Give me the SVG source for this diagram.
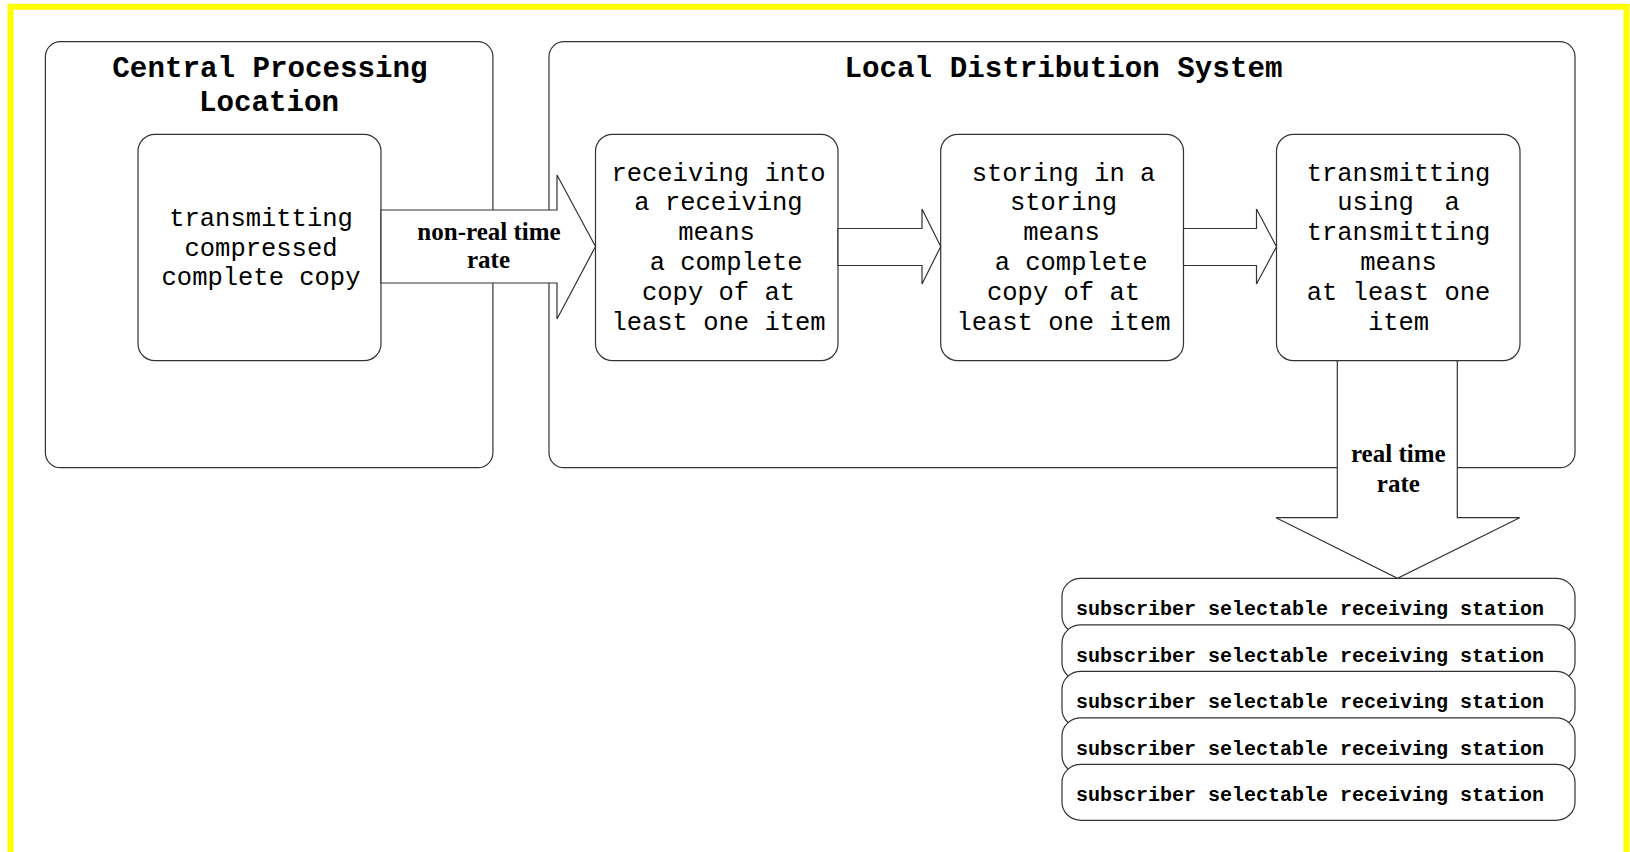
<svg xmlns="http://www.w3.org/2000/svg" width="1630" height="852" viewBox="0 0 1630 852">
<style>
.box{fill:#fff;stroke:#333;stroke-width:1.2}
.arr{fill:#fff;stroke:#333;stroke-width:1.2;stroke-linejoin:miter}
.title{font-family:"Liberation Mono",monospace;font-weight:bold;font-size:29.2px;fill:#000;text-anchor:middle}
.t{font-family:"Liberation Mono",monospace;font-size:25.5px;fill:#000;text-anchor:middle}
.sub{font-family:"Liberation Mono",monospace;font-weight:bold;font-size:20px;fill:#000}
.lab{font-family:"Liberation Serif",serif;font-weight:bold;font-size:25px;fill:#000;text-anchor:middle}
</style>
<rect x="0" y="0" width="1630" height="852" fill="#fff"/>
<path d="M10.5 860 V6.8 H1626.5 V860" fill="none" stroke="#ffff00" stroke-width="6"/>

<g id="cpl">
<rect class="box" x="45.4" y="41.7" width="447.5" height="426" rx="15" ry="15"/>
<text class="title" x="270" y="77">Central Processing</text>
<text class="title" x="269" y="110.5">Location</text>
</g>

<g id="lds">
<rect class="box" x="549" y="41.7" width="1026" height="426" rx="15" ry="15"/>
<text class="title" x="1063.5" y="77">Local Distribution System</text>
</g>

<g id="n-transmit-compressed">
<rect class="box" x="138" y="134.3" width="243" height="226.4" rx="17" ry="17"/>
<text class="t" x="261" y="226">transmitting</text>
<text class="t" x="261" y="255.7">compressed</text>
<text class="t" x="261" y="285.4">complete copy</text>
</g>

<g id="n-receiving">
<rect class="box" x="595.5" y="134.3" width="242.5" height="226.4" rx="17" ry="17"/>
<text class="t" xml:space="preserve" x="718.5" y="180.5">receiving into</text>
<text class="t" xml:space="preserve" x="718.5" y="210.3">a receiving</text>
<text class="t" xml:space="preserve" x="716.5" y="240.1">means</text>
<text class="t" xml:space="preserve" x="718.5" y="269.9"> a complete</text>
<text class="t" xml:space="preserve" x="718.5" y="299.7">copy of at</text>
<text class="t" xml:space="preserve" x="718.5" y="329.5">least one item</text>
</g>

<g id="n-storing">
<rect class="box" x="940.7" y="134.3" width="242.8" height="226.4" rx="17" ry="17"/>
<text class="t" xml:space="preserve" x="1063.5" y="180.5">storing in a</text>
<text class="t" xml:space="preserve" x="1063.5" y="210.3">storing</text>
<text class="t" xml:space="preserve" x="1061.5" y="240.1">means</text>
<text class="t" xml:space="preserve" x="1063.5" y="269.9"> a complete</text>
<text class="t" xml:space="preserve" x="1063.5" y="299.7">copy of at</text>
<text class="t" xml:space="preserve" x="1063.5" y="329.5">least one item</text>
</g>

<g id="n-transmitting">
<rect class="box" x="1276.5" y="134.3" width="243.5" height="226.4" rx="17" ry="17"/>
<text class="t" xml:space="preserve" x="1398.5" y="180.5">transmitting</text>
<text class="t" xml:space="preserve" x="1398.5" y="210.3">using  a</text>
<text class="t" xml:space="preserve" x="1398.5" y="240.1">transmitting</text>
<text class="t" xml:space="preserve" x="1398.5" y="269.9">means</text>
<text class="t" xml:space="preserve" x="1398.5" y="299.7">at least one</text>
<text class="t" xml:space="preserve" x="1398.5" y="329.5">item</text>
</g>

<g id="stations">
<g id="station-1"><rect class="box" x="1062" y="578.3" width="513" height="56" rx="19" ry="18"/><text class="sub" x="1076" y="615">subscriber selectable receiving station</text></g>
<g id="station-2"><rect class="box" x="1062" y="624.8" width="513" height="56" rx="19" ry="18"/><text class="sub" x="1076" y="661.5">subscriber selectable receiving station</text></g>
<g id="station-3"><rect class="box" x="1062" y="671.3" width="513" height="56" rx="19" ry="18"/><text class="sub" x="1076" y="708">subscriber selectable receiving station</text></g>
<g id="station-4"><rect class="box" x="1062" y="717.8" width="513" height="56" rx="19" ry="18"/><text class="sub" x="1076" y="754.5">subscriber selectable receiving station</text></g>
<g id="station-5"><rect class="box" x="1062" y="764.3" width="513" height="56" rx="19" ry="18"/><text class="sub" x="1076" y="801">subscriber selectable receiving station</text></g>
</g>

<g id="connectors">
<polygon class="arr" points="381,210 557,210 557,175 595.5,246.5 557,319 557,283 381,283"/>
<text class="lab" x="489" y="240">non-real time</text>
<text class="lab" x="488.5" y="268.3">rate</text>
<polygon class="arr" points="838,228.5 922,228.5 922,209 940.7,246.5 922,284 922,265.5 838,265.5"/>
<polygon class="arr" points="1183.5,228.5 1256.5,228.5 1256.5,209 1276.5,246.7 1256.5,284 1256.5,265.5 1183.5,265.5"/>
<polygon class="arr" points="1337.3,360.7 1337.3,517.7 1276,517.7 1397.5,578.3 1519.7,517.7 1457.3,517.7 1457.3,360.7"/>
<text class="lab" x="1398.3" y="461.7">real time</text>
<text class="lab" x="1398.3" y="491.7">rate</text>
</g>
</svg>
